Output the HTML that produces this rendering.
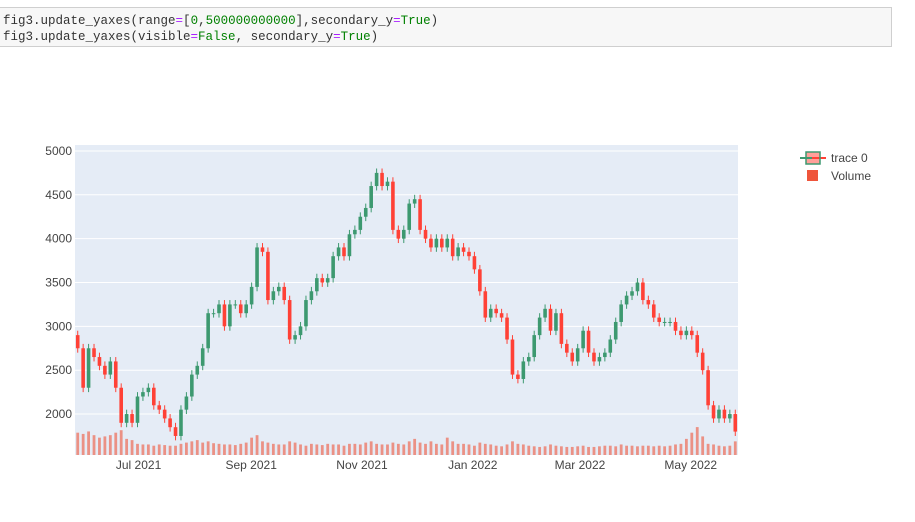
<!DOCTYPE html>
<html><head><meta charset="utf-8"><style>
body{margin:0;width:915px;height:522px;background:#fff;overflow:hidden;font-family:"Liberation Sans",sans-serif}
.code{position:absolute;left:0;top:7px;width:892px;height:40px;background:#f7f7f7;border:1px solid #cfcfcf;border-left:none;font-family:"Liberation Mono",monospace;font-size:12.5px;line-height:16px;padding-top:5px;box-sizing:border-box;padding-left:3px;color:#333}
.g{color:#008000}.p{color:#aa22ff}.k{color:#008000}
</style></head><body>
<div class="code"><div>fig3.update_yaxes(range<span class="p">=</span>[<span class="g">0</span>,<span class="g">500000000000</span>],secondary_y<span class="p">=</span><span class="k">True</span>)</div><div>fig3.update_yaxes(visible<span class="p">=</span><span class="k">False</span>, secondary_y<span class="p">=</span><span class="k">True</span>)</div></div>
<svg id="c" width="915" height="522" style="position:absolute;left:0;top:0"></svg>
<script>
const closes=[2750,2300,2750,2650,2550,2450,2600,2300,1900,2000,1900,2200,2250,2300,2100,2050,1950,1850,1750,2050,2200,2450,2550,2750,3150,3150,3250,3000,3250,3250,3150,3250,3450,3900,3850,3300,3400,3450,3300,2850,2900,3000,3300,3400,3550,3500,3550,3800,3900,3800,4050,4100,4250,4350,4600,4750,4600,4650,4100,4000,4100,4400,4450,4100,4000,3900,4000,3900,4000,3800,3900,3850,3800,3650,3400,3100,3200,3150,3100,2850,2450,2400,2600,2650,2900,3100,3200,2950,3150,2800,2700,2600,2750,2950,2700,2600,2650,2700,2850,3050,3250,3350,3400,3500,3300,3250,3100,3050,3050,3050,2950,2900,2950,2900,2700,2500,2100,1950,2050,1950,2000,1800];
const firstOpen=2900;
const volumes=[36,34,38,32,28,30,32,36,40,26,24,18,17,17,15,17,16,15,15,18,20,22,24,20,22,19,18,17,17,16,18,20,28,32,22,20,18,17,17,22,20,17,15,18,17,16,18,17,17,15,18,18,17,20,22,18,17,17,20,18,17,22,26,20,18,22,18,17,28,22,18,18,17,15,20,18,17,15,14,17,22,18,17,15,14,13,14,17,15,14,13,13,14,15,13,13,14,15,15,14,17,15,15,14,15,15,14,15,14,15,17,18,26,36,45,30,18,17,15,14,15,22];
const xTicks=["Jul 2021","Sep 2021","Nov 2021","Jan 2022","Mar 2022","May 2022"];
const xTickDay=[35,97,158,219,278,339];
const yTicks=[2000,2500,3000,3500,4000,4500,5000];
const NS="http://www.w3.org/2000/svg",svg=document.getElementById('c');
const L=75,R=738,T=145,B=455,yMin=1533,yMax=5068,days=365;
const ys=v=>B-(v-yMin)/(yMax-yMin)*(B-T);
const xd=d=>L+d/days*(R-L);
const step=(R-L)/closes.length, xi=i=>L+(i+0.5)*step;
const vs=v=>B-v*1e9/5e11*(B-T);
function mk(t,a){const e=document.createElementNS(NS,t);for(const k in a)e.setAttribute(k,a[k]);svg.appendChild(e);return e;}
let e=mk('rect',{x:L,y:T,width:R-L,height:B-T,fill:'#E5ECF6'});


yTicks.forEach(v=>{
 let g=mk('line',{x1:L,x2:R,y1:ys(v),y2:ys(v),stroke:'#fff','stroke-width':1});
 
 
 let t=mk('text',{x:L-3,y:ys(v)+4,'text-anchor':'end','font-size':12,fill:'#444'});t.textContent=v;
 
 
});
xTicks.forEach((s,i)=>{
 let t=mk('text',{x:xd(xTickDay[i]),y:B+14,'text-anchor':'middle','font-size':12,fill:'#444'});t.textContent=s;
 
 
});
volumes.forEach((v,i)=>{
 let r=mk('rect',{x:xi(i)-1.4,y:vs(v),width:2.8,height:B-vs(v),fill:'#EF553B','fill-opacity':0.6});
 
 
});
closes.forEach((c,i)=>{
 const o=i?closes[i-1]:firstOpen, up=c>=o, col=up?'#3D9970':'#FF4136';
 const hi=Math.max(o,c)+50, lo=Math.min(o,c)-50;
 let w=mk('line',{x1:xi(i),x2:xi(i),y1:ys(hi),y2:ys(lo),stroke:col,'stroke-width':1});
 
 
 let b=mk('rect',{x:xi(i)-1.8,y:ys(Math.max(o,c)),width:3.6,height:Math.max(1,Math.abs(ys(o)-ys(c))),fill:col});
 
 
});
let l1=mk('g',{});


mk('line',{x1:800,x2:826,y1:158,y2:158,stroke:'#FF4136','stroke-width':2});
mk('rect',{x:806,y:152,width:14,height:12,fill:'#FF4136','fill-opacity':0.5,stroke:'#3D9970','stroke-width':1.5});
mk('line',{x1:800,x2:812,y1:158,y2:158,stroke:'#3D9970','stroke-width':2});
let t1=mk('text',{x:831,y:162,'font-size':12,fill:'#444'});t1.textContent='trace 0';


let r2=mk('rect',{x:807,y:170,width:11,height:11,fill:'#EF553B'});


let t2=mk('text',{x:831,y:180,'font-size':12,fill:'#444'});t2.textContent='Volume';


</script>
</body></html>
